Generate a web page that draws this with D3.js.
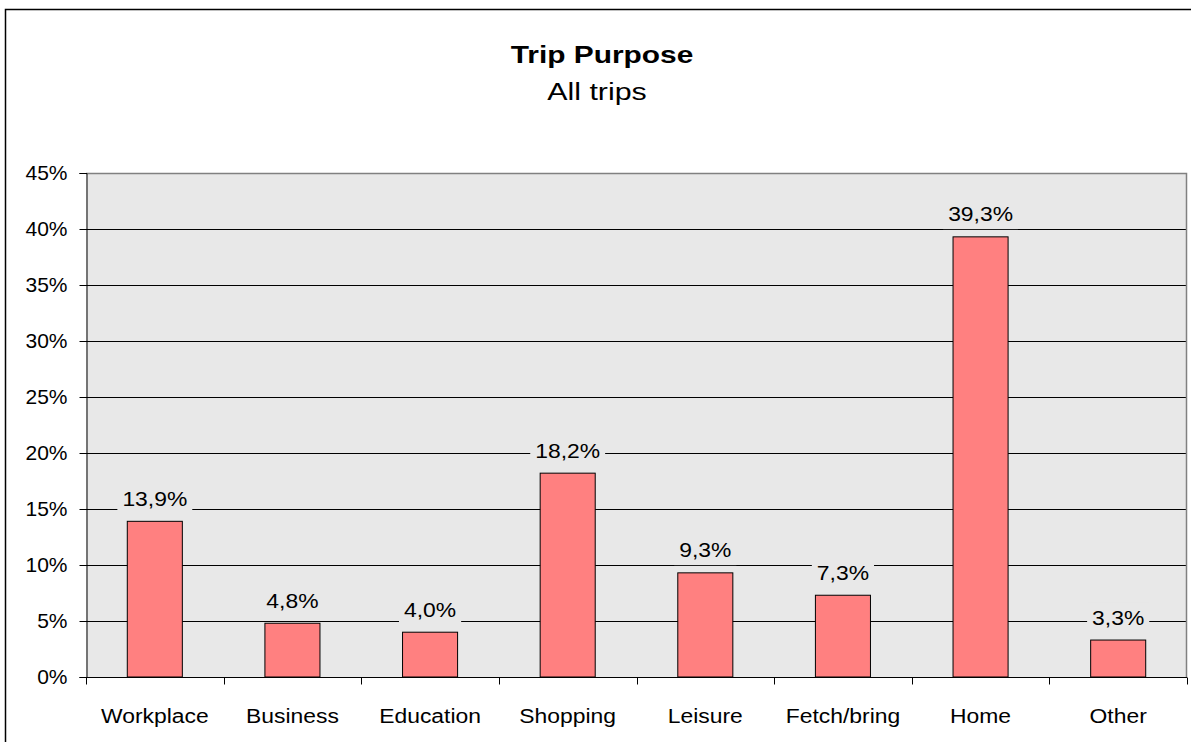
<!DOCTYPE html>
<html>
<head>
<meta charset="utf-8">
<script src="https://cdn.jsdelivr.net/npm/d3@7"></script>
<style>
  html, body { margin: 0; padding: 0; background: #fff; }
  svg { display: block; font-family: "Liberation Sans", Arial, sans-serif; }
</style>
</head>
<body>
<svg id="chart" width="1191" height="742"></svg>
<script>
// Trip purpose shares, all trips (percent)
const categories = ["Workplace", "Business", "Education", "Shopping", "Leisure", "Fetch/bring", "Home", "Other"];
const values = [13.9, 4.8, 4.0, 18.2, 9.3, 7.3, 39.3, 3.3];
const yTicks = [0, 5, 10, 15, 20, 25, 30, 35, 40, 45];
const title = "Trip Purpose";
const subtitle = "All trips";

const svg = d3.select("#chart");
const W = 1191, H = 742;
const plot = { left: 86, right: 1187, top: 173, bottom: 677 };
const FONT = "Liberation Sans, Arial, sans-serif";

// text helper: horizontally widened glyphs, centred at (cx, baseline)
function wideText(parent, cx, baseline, str, size, sx, weight) {
  return parent.append("text")
    .attr("transform", `translate(${cx},${baseline}) scale(${sx},1)`)
    .attr("text-anchor", "middle")
    .attr("font-size", size)
    .attr("font-weight", weight || "normal")
    .attr("font-family", FONT)
    .attr("fill", "#000")
    .text(str);
}

// outer chart frame
svg.append("path")
  .attr("d", `M5.5,${H} V9.5 H${W}`)
  .attr("fill", "none").attr("stroke", "#000").attr("stroke-width", 1.5);

const x = d3.scaleBand().domain(categories).range([plot.left, plot.right]).paddingInner(0).paddingOuter(0);
const y = d3.scaleLinear().domain([0, 45]).range([plot.bottom, plot.top]);

// plot background
svg.append("rect")
  .attr("x", plot.left).attr("y", plot.top)
  .attr("width", plot.right - plot.left).attr("height", plot.bottom - plot.top)
  .attr("fill", "#e8e8e8");

// horizontal gridlines
svg.append("g").selectAll("line").data(yTicks.filter(t => t > 0 && t < 45)).join("line")
  .attr("x1", plot.left).attr("x2", plot.right)
  .attr("y1", d => Math.round(y(d)) + 0.5).attr("y2", d => Math.round(y(d)) + 0.5)
  .attr("stroke", "#000").attr("stroke-width", 1);

// plot border (top & right)
svg.append("path")
  .attr("d", `M${plot.left},${plot.top + 0.5} H${plot.right - 0.5} V${plot.bottom}`)
  .attr("fill", "none").attr("stroke", "#808080").attr("stroke-width", 1.5);

// bars
const bw = x.bandwidth() * 0.4;
svg.append("g").selectAll("rect").data(values).join("rect")
  .attr("x", (d, i) => x(categories[i]) + (x.bandwidth() - bw) / 2)
  .attr("y", d => y(d))
  .attr("width", bw)
  .attr("height", d => y(0) - y(d))
  .attr("fill", "#ff8080").attr("stroke", "#000").attr("stroke-width", 1);

// y axis
const yAxis = d3.axisLeft(y).tickValues(yTicks).tickSize(7).tickPadding(12)
  .tickFormat(d => d + "%");
const gy = svg.append("g").attr("transform", `translate(${plot.left + 0.5},0)`).call(yAxis);
gy.select(".domain").attr("stroke", "#000");
gy.selectAll(".tick line").attr("stroke", "#000");
gy.selectAll(".tick text").attr("font-size", 21).attr("fill", "#000")
  .attr("font-family", FONT);

// x axis with ticks at category boundaries
const gx = svg.append("g").attr("transform", `translate(0,${plot.bottom + 0.5})`);
gx.append("line").attr("x1", plot.left).attr("x2", plot.right).attr("stroke", "#000");
const bounds = categories.map(c => x(c)).concat([plot.right]);
gx.selectAll("line.tk").data(bounds).join("line").attr("class", "tk")
  .attr("x1", d => Math.round(d) + 0.5).attr("x2", d => Math.round(d) + 0.5)
  .attr("y1", 0).attr("y2", 7).attr("stroke", "#000");
categories.forEach(c => wideText(gx, x(c) + x.bandwidth() / 2, 45.5, c, 21, 1.09));

// data labels with background masking gridlines
const lblLayer = svg.append("g");
values.forEach((v, i) => {
  const g = lblLayer.append("g");
  const t = wideText(g, x(categories[i]) + x.bandwidth() / 2, y(v) - 15.5,
    v.toFixed(1).replace(".", ",") + "%", 21, 1.09);
  const bb = t.node().getBoundingClientRect();
  const sb = svg.node().getBoundingClientRect();
  g.insert("rect", "text")
    .attr("x", bb.left - sb.left - 5).attr("y", bb.top - sb.top - 3)
    .attr("width", bb.width + 10).attr("height", bb.height + 6)
    .attr("fill", "#e8e8e8");
});

// titles
wideText(svg, 602, 63, title, 24.5, 1.22, "bold");
wideText(svg, 597, 99.5, subtitle, 24.5, 1.24);
</script>
</body>
</html>
